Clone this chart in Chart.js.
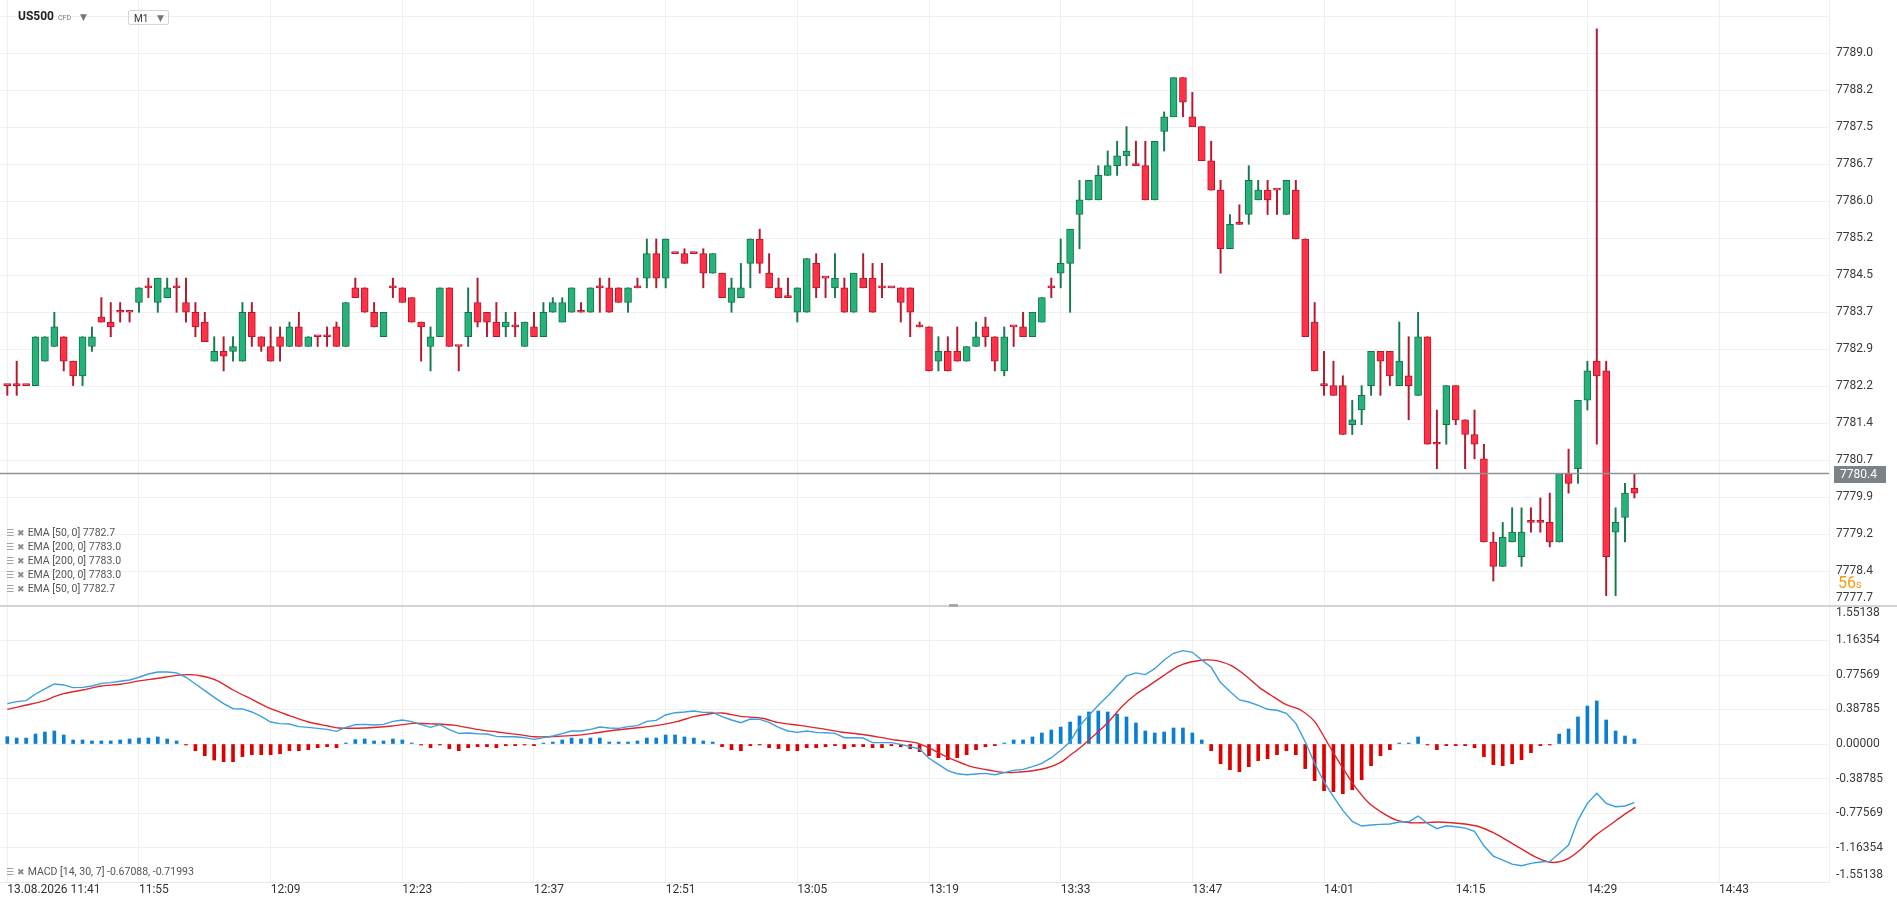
<!DOCTYPE html>
<html>
<head>
<meta charset="utf-8">
<title>US500 M1</title>
<script src="https://cdn.jsdelivr.net/npm/chart.js@4.4.1/dist/chart.umd.min.js"></script>
<style>
  html, body { margin: 0; padding: 0; background: #fff; }
  body { width: 1897px; height: 906px; position: relative; overflow: hidden; font-family: Roboto, "DejaVu Sans", sans-serif; }
  #pricePane { position: absolute; left: 0; top: 0; width: 1897px; height: 606px; }
  #macdPane { position: absolute; left: 0; top: 606px; width: 1897px; height: 300px; }
  .divider { position: absolute; left: 0; top: 605px; width: 1897px; height: 2px; background: #d4d4d4; }
  .handle { position: absolute; left: 949px; top: 604px; width: 9px; height: 3px; background: #a8a8a8; }
  .head { position: absolute; left: 18px; top: 9px; font-size: 12px; font-weight: bold; color: #222; }
  .head small { font-size: 7px; font-weight: normal; color: #777; margin-left: 4px; }
  .head .dd { font-size: 9px; font-weight: normal; color: #777; margin-left: 9px; }
  .tf { position: absolute; left: 128px; top: 10px; width: 41px; height: 15px; border: 1px solid #d6d6d6; border-radius: 2px;
        font-size: 10px; color: #333; line-height: 15px; box-sizing: border-box; padding-left: 5px; }
  .tf span { position: absolute; right: 4px; top: 0; font-size: 9px; color: #777; }
  .leg { position: absolute; left: 6px; font-size: 10.5px; color: #555; line-height: 12px; white-space: nowrap; }
  .leg .ic { font-family: "DejaVu Sans", sans-serif; color: #8a8a8a; font-size: 9px; margin-right: 3px; }
  .timer { position: absolute; left: 1838px; top: 573px; color: #f39c12; font-size: 16px; }
  .timer small { font-size: 11px; }
</style>
</head>
<body>
<div id="pricePane"><canvas id="price"></canvas></div>
<div id="macdPane"><canvas id="macd"></canvas></div>
<div class="divider"></div>
<div class="handle"></div>

<div class="head">US500<small>CFD</small><span class="dd">&#9660;</span></div>
<div class="tf">M1<span>&#9660;</span></div>

<div class="leg" style="top:527px"><span class="ic">&#9776;</span><span class="ic">&#10006;</span>EMA [50, 0] 7782.7</div>
<div class="leg" style="top:541px"><span class="ic">&#9776;</span><span class="ic">&#10006;</span>EMA [200, 0] 7783.0</div>
<div class="leg" style="top:555px"><span class="ic">&#9776;</span><span class="ic">&#10006;</span>EMA [200, 0] 7783.0</div>
<div class="leg" style="top:569px"><span class="ic">&#9776;</span><span class="ic">&#10006;</span>EMA [200, 0] 7783.0</div>
<div class="leg" style="top:583px"><span class="ic">&#9776;</span><span class="ic">&#10006;</span>EMA [50, 0] 7782.7</div>
<div class="leg" style="top:866px"><span class="ic">&#9776;</span><span class="ic">&#10006;</span>MACD [14, 30, 7] -0.67088, -0.71993</div>
<div class="timer">56<small>s</small></div>

<script>
// one-minute candles, 11:41 .. 14:34
const openP = [
  7782.2, 7782.2, 7782.2, 7782.2, 7782.7, 7783.0, 7783.2, 7782.7, 7782.4, 7783.0,
  7783.6, 7783.5, 7783.7, 7783.7, 7783.9, 7784.2, 7783.9, 7784.0, 7784.2, 7783.9,
  7783.7, 7783.5, 7782.7, 7782.9, 7782.9, 7782.7, 7783.7, 7783.2, 7783.0, 7783.2,
  7783.0, 7783.4, 7783.0, 7783.2, 7783.2, 7783.4, 7783.0, 7784.2, 7784.2, 7783.7,
  7783.2, 7784.2, 7784.2, 7784.0, 7783.5, 7783.0, 7783.2, 7784.2, 7783.0, 7783.2,
  7783.9, 7783.7, 7783.5, 7783.4, 7783.4, 7783.0, 7783.4, 7783.2, 7783.7, 7783.5,
  7783.7, 7783.7, 7783.7, 7784.2, 7784.2, 7784.2, 7783.9, 7784.2, 7784.4, 7784.9,
  7784.4, 7784.9, 7784.9, 7784.9, 7784.9, 7784.5, 7784.5, 7783.9, 7784.0, 7784.7,
  7785.2, 7784.5, 7784.2, 7784.0, 7783.7, 7783.7, 7784.7, 7784.4, 7784.2, 7784.2,
  7783.7, 7784.4, 7784.4, 7784.2, 7784.2, 7784.2, 7784.2, 7783.4, 7783.4, 7782.7,
  7782.9, 7782.9, 7782.7, 7783.0, 7783.4, 7783.2, 7782.5, 7783.4, 7783.4, 7783.2,
  7783.5, 7784.2, 7784.5, 7784.7, 7785.7, 7786.0, 7786.0, 7786.5, 7786.7, 7786.9,
  7786.7, 7786.7, 7786.0, 7787.4, 7787.7, 7788.5, 7787.7, 7787.5, 7786.8, 7786.2,
  7785.0, 7785.5, 7785.7, 7786.0, 7786.2, 7786.2, 7785.7, 7786.2, 7785.2, 7783.5,
  7782.2, 7782.2, 7782.2, 7781.4, 7781.7, 7782.2, 7782.9, 7782.9, 7782.2, 7782.4,
  7782.0, 7783.2, 7781.0, 7781.4, 7782.2, 7781.5, 7781.2, 7780.7, 7779.0, 7778.5,
  7779.0, 7778.7, 7779.4, 7779.4, 7779.4, 7779.0, 7780.4, 7780.5, 7781.9, 7782.7,
  7782.5, 7779.2, 7779.5, 7780.1
];
const highP = [
  7782.2, 7782.7, 7782.2, 7783.2, 7783.2, 7783.7, 7783.2, 7782.7, 7783.2, 7783.4,
  7784.0, 7783.9, 7783.9, 7783.7, 7784.2, 7784.4, 7784.4, 7784.4, 7784.4, 7784.4,
  7783.9, 7783.7, 7783.2, 7783.2, 7783.2, 7783.9, 7783.9, 7783.2, 7783.4, 7783.4,
  7783.5, 7783.7, 7783.2, 7783.2, 7783.4, 7783.5, 7783.9, 7784.4, 7784.2, 7783.9,
  7783.7, 7784.4, 7784.2, 7784.0, 7783.5, 7783.4, 7784.2, 7784.2, 7783.0, 7784.2,
  7784.4, 7783.7, 7783.9, 7783.7, 7783.7, 7783.5, 7783.7, 7783.9, 7784.0, 7784.0,
  7784.2, 7783.9, 7784.2, 7784.4, 7784.4, 7784.2, 7784.2, 7784.4, 7785.2, 7785.2,
  7785.2, 7784.9, 7785.0, 7784.9, 7785.0, 7784.9, 7784.5, 7784.4, 7784.7, 7785.2,
  7785.4, 7784.9, 7784.4, 7784.4, 7784.2, 7784.8, 7784.9, 7784.4, 7784.9, 7784.4,
  7784.5, 7784.9, 7784.7, 7784.7, 7784.2, 7784.2, 7784.2, 7783.5, 7783.4, 7783.2,
  7783.2, 7783.4, 7783.0, 7783.5, 7783.6, 7783.2, 7783.4, 7783.4, 7783.7, 7783.7,
  7784.0, 7784.4, 7785.2, 7785.4, 7786.4, 7786.4, 7786.7, 7787.0, 7787.2, 7787.5,
  7787.2, 7787.2, 7787.2, 7787.8, 7788.5, 7788.5, 7788.2, 7787.5, 7787.2, 7786.4,
  7785.7, 7785.9, 7786.7, 7786.4, 7786.4, 7786.2, 7786.4, 7786.4, 7785.2, 7783.9,
  7782.9, 7782.7, 7782.4, 7781.9, 7782.2, 7782.9, 7782.9, 7782.9, 7783.5, 7783.2,
  7783.7, 7783.2, 7781.7, 7782.2, 7782.2, 7781.5, 7781.7, 7781.0, 7779.2, 7779.4,
  7779.7, 7779.7, 7779.7, 7779.9, 7780.0, 7780.4, 7780.9, 7781.9, 7782.7, 7789.5,
  7782.7, 7779.7, 7780.2, 7780.4
];
const lowP = [
  7782.0, 7782.0, 7782.2, 7782.2, 7782.7, 7783.0, 7782.5, 7782.2, 7782.2, 7782.9,
  7783.5, 7783.2, 7783.5, 7783.5, 7783.7, 7784.0, 7783.7, 7784.0, 7783.7, 7783.5,
  7783.2, 7783.1, 7782.7, 7782.5, 7782.7, 7782.7, 7783.0, 7782.9, 7782.7, 7782.7,
  7783.0, 7783.0, 7783.0, 7783.0, 7783.0, 7783.0, 7783.0, 7784.0, 7783.7, 7783.4,
  7783.2, 7784.0, 7783.9, 7783.5, 7782.7, 7782.5, 7783.2, 7783.0, 7782.5, 7783.0,
  7783.4, 7783.2, 7783.2, 7783.2, 7783.2, 7783.0, 7783.2, 7783.2, 7783.7, 7783.5,
  7783.7, 7783.7, 7783.7, 7783.7, 7783.7, 7783.9, 7783.7, 7784.2, 7784.2, 7784.2,
  7784.2, 7784.9, 7784.7, 7784.9, 7784.2, 7784.5, 7784.0, 7783.7, 7784.0, 7784.2,
  7784.5, 7784.2, 7784.0, 7784.0, 7783.5, 7783.7, 7784.0, 7784.0, 7784.0, 7783.7,
  7783.7, 7784.2, 7783.7, 7784.0, 7784.2, 7783.5, 7783.2, 7783.4, 7782.5, 7782.5,
  7782.5, 7782.7, 7782.7, 7783.0, 7783.0, 7782.5, 7782.4, 7783.0, 7783.2, 7783.2,
  7783.5, 7784.0, 7784.2, 7783.7, 7785.0, 7786.0, 7786.0, 7786.5, 7786.5, 7786.7,
  7786.7, 7786.0, 7786.0, 7787.0, 7787.7, 7787.7, 7787.5, 7786.8, 7786.2, 7784.5,
  7785.0, 7785.5, 7785.5, 7786.0, 7785.7, 7785.7, 7785.7, 7785.2, 7783.2, 7782.5,
  7782.0, 7782.0, 7781.2, 7781.2, 7781.4, 7782.0, 7782.0, 7782.2, 7782.2, 7781.5,
  7782.0, 7781.0, 7780.5, 7781.0, 7781.4, 7780.5, 7780.7, 7779.0, 7778.2, 7778.5,
  7779.0, 7778.5, 7779.2, 7779.2, 7778.9, 7779.0, 7780.0, 7780.2, 7781.7, 7781.0,
  7777.9, 7777.9, 7779.0, 7779.9
];
const closeP = [
  7782.2, 7782.2, 7782.2, 7783.2, 7783.2, 7783.4, 7782.7, 7782.4, 7783.2, 7783.2,
  7783.5, 7783.4, 7783.7, 7783.7, 7784.2, 7784.2, 7784.4, 7784.2, 7784.2, 7783.7,
  7783.4, 7783.1, 7782.9, 7782.8, 7783.0, 7783.7, 7783.2, 7783.0, 7782.7, 7783.0,
  7783.4, 7783.0, 7783.2, 7783.2, 7783.2, 7783.0, 7783.9, 7784.0, 7783.7, 7783.4,
  7783.7, 7784.2, 7783.9, 7783.5, 7783.4, 7783.2, 7784.2, 7783.0, 7783.0, 7783.7,
  7783.5, 7783.5, 7783.2, 7783.5, 7783.4, 7783.5, 7783.2, 7783.7, 7783.9, 7783.9,
  7784.2, 7783.7, 7784.2, 7784.2, 7783.7, 7783.9, 7784.2, 7784.2, 7784.9, 7784.4,
  7785.2, 7784.9, 7784.7, 7784.9, 7784.5, 7784.9, 7784.0, 7784.2, 7784.2, 7785.2,
  7784.7, 7784.2, 7784.0, 7784.0, 7784.2, 7784.8, 7784.2, 7784.4, 7784.4, 7783.7,
  7784.5, 7784.2, 7783.7, 7784.2, 7784.2, 7783.9, 7783.7, 7783.4, 7782.5, 7782.9,
  7782.5, 7782.7, 7783.0, 7783.2, 7783.2, 7782.7, 7783.2, 7783.4, 7783.2, 7783.7,
  7784.0, 7784.2, 7784.7, 7785.4, 7786.0, 7786.4, 7786.5, 7786.7, 7786.9, 7787.0,
  7786.7, 7786.0, 7787.2, 7787.7, 7788.5, 7788.0, 7787.5, 7786.8, 7786.2, 7785.0,
  7785.5, 7785.5, 7786.4, 7786.2, 7786.0, 7786.2, 7786.4, 7785.2, 7783.2, 7782.5,
  7782.2, 7782.0, 7781.2, 7781.5, 7782.0, 7782.9, 7782.7, 7782.4, 7782.7, 7782.2,
  7783.2, 7781.0, 7781.0, 7782.2, 7781.5, 7781.2, 7781.0, 7779.0, 7778.5, 7779.1,
  7779.2, 7779.2, 7779.4, 7779.4, 7779.0, 7780.4, 7780.2, 7781.9, 7782.5, 7782.4,
  7778.7, 7779.4, 7780.0, 7780.0
];
const currentPrice = 7780.4;

// MACD [14, 30, 7]
const macdHist = [
  0.082, 0.067, 0.067, 0.112, 0.135, 0.146, 0.101, 0.045, 0.045, 0.034,
  0.034, 0.034, 0.045, 0.056, 0.067, 0.067, 0.079, 0.056, 0.034, -0.011,
  -0.075, -0.131, -0.180, -0.199, -0.199, -0.142, -0.120, -0.120, -0.120, -0.109,
  -0.075, -0.075, -0.064, -0.041, -0.030, -0.041, 0.011, 0.049, 0.056, 0.034,
  0.034, 0.056, 0.045, 0.003, -0.008, -0.041, -0.011, -0.052, -0.075, -0.041,
  -0.030, -0.030, -0.041, -0.019, -0.019, -0.011, -0.019, 0.003, 0.022, 0.045,
  0.067, 0.056, 0.067, 0.067, 0.022, 0.022, 0.022, 0.034, 0.067, 0.067,
  0.101, 0.101, 0.079, 0.067, 0.034, 0.022, -0.030, -0.064, -0.075, -0.019,
  -0.011, -0.041, -0.052, -0.075, -0.075, -0.041, -0.041, -0.030, -0.019, -0.052,
  -0.030, -0.030, -0.041, -0.041, -0.019, -0.030, -0.052, -0.086, -0.131, -0.154,
  -0.176, -0.154, -0.120, -0.064, -0.030, -0.019, 0.011, 0.045, 0.045, 0.079,
  0.124, 0.157, 0.191, 0.247, 0.315, 0.360, 0.371, 0.360, 0.337, 0.304,
  0.236, 0.146, 0.124, 0.135, 0.180, 0.180, 0.124, 0.045, -0.075, -0.221,
  -0.289, -0.311, -0.255, -0.187, -0.165, -0.120, -0.075, -0.120, -0.277, -0.412,
  -0.525, -0.536, -0.559, -0.514, -0.401, -0.244, -0.131, -0.064, 0.003, 0.011,
  0.079, -0.008, -0.064, -0.019, -0.019, -0.019, -0.041, -0.142, -0.232, -0.244,
  -0.221, -0.176, -0.097, -0.019, -0.003, 0.112, 0.169, 0.304, 0.427, 0.484,
  0.270, 0.146, 0.090, 0.056
];
const macdLine = [
  0.454, 0.476, 0.487, 0.562, 0.619, 0.675, 0.664, 0.634, 0.637, 0.652,
  0.682, 0.690, 0.705, 0.720, 0.750, 0.787, 0.810, 0.810, 0.799, 0.750,
  0.675, 0.600, 0.525, 0.454, 0.397, 0.394, 0.360, 0.311, 0.247, 0.229,
  0.225, 0.195, 0.187, 0.176, 0.165, 0.142, 0.187, 0.217, 0.221, 0.214,
  0.221, 0.255, 0.270, 0.251, 0.217, 0.187, 0.217, 0.161, 0.120, 0.124,
  0.116, 0.112, 0.086, 0.082, 0.082, 0.071, 0.052, 0.071, 0.090, 0.116,
  0.146, 0.146, 0.165, 0.191, 0.180, 0.176, 0.195, 0.206, 0.255, 0.266,
  0.326, 0.352, 0.360, 0.371, 0.356, 0.356, 0.307, 0.270, 0.240, 0.281,
  0.277, 0.244, 0.187, 0.146, 0.131, 0.146, 0.131, 0.127, 0.120, 0.071,
  0.071, 0.067, 0.015, 0.015, 0.015, -0.004, -0.030, -0.056, -0.161, -0.229,
  -0.300, -0.334, -0.345, -0.337, -0.330, -0.345, -0.322, -0.296, -0.285, -0.255,
  -0.217, -0.154, -0.071, 0.026, 0.202, 0.322, 0.435, 0.540, 0.652, 0.765,
  0.799, 0.780, 0.847, 0.945, 1.020, 1.050, 1.031, 0.945, 0.862, 0.690,
  0.589, 0.495, 0.472, 0.435, 0.390, 0.379, 0.345, 0.232, 0.026, -0.217,
  -0.427, -0.592, -0.746, -0.870, -0.922, -0.911, -0.904, -0.900, -0.877, -0.874,
  -0.810, -0.892, -0.952, -0.919, -0.930, -0.945, -0.982, -1.144, -1.260, -1.305,
  -1.350, -1.369, -1.342, -1.327, -1.320, -1.230, -1.136, -0.855, -0.667, -0.555,
  -0.667, -0.705, -0.697, -0.660
];
// signal line, read at these candle positions
const signalAt = [
  0, 1.9, 4, 5, 6, 8, 10, 12, 14, 16, 18, 19.5, 20.8, 22.3, 24, 26, 28, 30, 32, 34.1,
  35.2, 38, 40.9, 43.1, 45.4, 47.6, 49.9, 52.1, 54.4, 56, 57.7, 60, 62.3, 64.5, 66.8, 69, 71.3, 73, 74.6, 76,
  78, 80.3, 82, 84.2, 86.4, 88.6, 90.8, 93, 94.4, 96.6, 98.1, 99.5, 101, 102.5, 104.7, 106.1, 107.6, 109, 110.5, 112,
  113, 114.2, 115.6, 117, 118.5, 120, 121.5, 122.9, 124.4, 125.8, 127.3, 128.7, 130.2, 131.7, 133.1, 134.6, 136, 137.5, 139, 140.4,
  141.9, 143.3, 144.8, 146.3, 147.7, 149.2, 150.6, 152.1, 153.6, 155, 156.5, 158, 159.4, 160.9, 162.3, 163.8, 164.9, 166, 167.4, 168.9,
  170.4, 171.8, 173.1
];
const signalVal = [
  0.390, 0.435, 0.487, 0.532, 0.566, 0.607, 0.652, 0.671, 0.709, 0.739, 0.772, 0.780, 0.761, 0.712, 0.607, 0.502, 0.397, 0.319, 0.247, 0.202,
  0.180, 0.180, 0.202, 0.232, 0.225, 0.210, 0.165, 0.135, 0.105, 0.082, 0.082, 0.094, 0.120, 0.154, 0.180, 0.206, 0.255, 0.307, 0.337, 0.349,
  0.311, 0.289, 0.240, 0.210, 0.176, 0.135, 0.109, 0.071, 0.045, 0.015, -0.049, -0.124, -0.195, -0.255, -0.300, -0.322, -0.315, -0.300, -0.270, -0.206,
  -0.127, -0.030, 0.101, 0.240, 0.420, 0.559, 0.664, 0.765, 0.870, 0.922, 0.945, 0.934, 0.877, 0.765, 0.637, 0.532, 0.442, 0.382, 0.251, 0.008,
  -0.255, -0.480, -0.667, -0.780, -0.855, -0.885, -0.885, -0.877, -0.885, -0.900, -0.930, -0.997, -1.080, -1.174, -1.260, -1.324, -1.327, -1.286, -1.174, -1.024,
  -0.911, -0.802, -0.712
];

// axis labels
const timeLabels = ['13.08.2026 11:41', '11:55', '12:09', '12:23', '12:37', '12:51', '13:05',
  '13:19', '13:33', '13:47', '14:01', '14:15', '14:29', '14:43'];
const priceTickValues = [7777.85, 7778.40, 7779.16, 7779.92, 7780.67, 7781.43, 7782.19, 7782.94, 7783.70,
  7784.46, 7785.21, 7785.97, 7786.73, 7787.49, 7788.24, 7789.00, 7789.76];
const priceTickLabels = ['7777.7', '7778.4', '7779.2', '7779.9', '7780.7', '7781.4', '7782.2', '7782.9', '7783.7',
  '7784.5', '7785.2', '7786.0', '7786.7', '7787.5', '7788.2', '7789.0', ''];
const macdTickValues = [-1.478, -1.16354, -0.77569, -0.38785, 0, 0.38785, 0.77569, 1.16354, 1.478];
const macdTickLabels = ['-1.55138', '-1.16354', '-0.77569', '-0.38785', '0.00000', '0.38785', '0.77569', '1.16354', '1.55138'];

const GRID = '#f0f0f0';
const UP = { fill: '#26b27a', edge: '#12744a', wick: '#157a4d' };
const DOWN = { fill: '#ff3147', edge: '#b7152c', wick: '#b3182c' };
const X_MIN = -0.776, X_MAX = 193.69;   // candle slots visible across the pane
const AXIS_W = 68;

Chart.defaults.font.family = "Roboto, 'DejaVu Sans', sans-serif";
Chart.defaults.font.size = 12;
Chart.defaults.color = '#3a3a3a';

const idx = closeP.map((c, i) => i);
const isUp = idx.map(i => closeP[i] > openP[i]);

function timeGrid(scale) {
  scale.ticks = timeLabels.map((t, k) => ({ value: k * 14 }));
}
function noPad(scale) {
  scale.paddingTop = 0; scale.paddingBottom = 0; scale.paddingLeft = 0; scale.paddingRight = 0;
}

const priceBox = {
  id: 'priceBox',
  afterDatasetsDraw(chart) {
    const { ctx, chartArea } = chart;
    const y = Math.round(chart.scales.y.getPixelForValue(currentPrice));
    ctx.save();
    ctx.fillStyle = '#7b8288';
    ctx.fillRect(chartArea.right + 5, y - 8, 52, 17);
    ctx.fillStyle = '#fff';
    ctx.font = "12px Roboto, 'DejaVu Sans', sans-serif";
    ctx.textBaseline = 'middle';
    ctx.fillText(currentPrice.toFixed(1), chartArea.right + 11, y + 0.5);
    ctx.restore();
  }
};

new Chart(document.getElementById('price'), {
  type: 'bar',
  data: {
    datasets: [
      {
        type: 'line',
        data: [{ x: X_MIN, y: currentPrice }, { x: X_MAX, y: currentPrice }],
        borderColor: '#8d9399', borderWidth: 1.4, pointRadius: 0, order: -1
      },
      {
        data: idx.map(i => ({ x: i, y: [openP[i], closeP[i]] })),
        backgroundColor: idx.map(i => isUp[i] ? UP.fill : DOWN.fill),
        borderColor: idx.map(i => isUp[i] ? UP.edge : DOWN.edge),
        borderWidth: 1, borderSkipped: false, barThickness: 7, minBarLength: 2,
        grouped: false, order: 0
      },
      {
        data: idx.map(i => ({ x: i, y: [lowP[i], highP[i]] })),
        backgroundColor: idx.map(i => isUp[i] ? UP.wick : DOWN.wick),
        barThickness: 1.3, grouped: false, order: 1
      }
    ]
  },
  options: {
    responsive: true, maintainAspectRatio: false, animation: false,
    layout: { padding: 0 },
    plugins: { legend: { display: false }, tooltip: { enabled: false } },
    scales: {
      x: {
        type: 'linear', min: X_MIN, max: X_MAX, offset: false,
        afterBuildTicks: timeGrid,
        afterFit: s => { s.height = 0; noPad(s); },
        ticks: { display: false },
        grid: { color: GRID, offset: false, drawTicks: false },
        border: { display: false }
      },
      y: {
        position: 'right', min: 7777.69, max: 7790.09,
        afterBuildTicks: s => { s.ticks = priceTickValues.map(v => ({ value: v })); },
        afterFit: s => { s.width = AXIS_W; noPad(s); },
        ticks: { callback: (v, i) => priceTickLabels[i], padding: 7, autoSkip: false },
        grid: { color: c => c.index === 0 ? 'rgba(0,0,0,0)' : GRID, drawTicks: false },
        border: { display: true, color: GRID }
      }
    }
  },
  plugins: [priceBox]
});

new Chart(document.getElementById('macd'), {
  type: 'bar',
  data: {
    datasets: [
      {
        type: 'line',
        data: idx.map(i => ({ x: i, y: macdLine[i] })),
        borderColor: '#3a9fe0', borderWidth: 1.4, pointRadius: 0, tension: 0, order: 0
      },
      {
        type: 'line',
        data: signalAt.map((x, k) => ({ x: x, y: signalVal[k] })),
        borderColor: '#e0242a', borderWidth: 1.4, pointRadius: 0, tension: 0.25, order: 1
      },
      {
        data: idx.map(i => ({ x: i, y: macdHist[i] })),
        backgroundColor: macdHist.map(v => v >= 0 ? '#0a7ed2' : '#dc0000'),
        barThickness: 3, minBarLength: 1, grouped: false, order: 2
      }
    ]
  },
  options: {
    responsive: true, maintainAspectRatio: false, animation: false,
    layout: { padding: 0 },
    plugins: { legend: { display: false }, tooltip: { enabled: false } },
    scales: {
      x: {
        type: 'linear', min: X_MIN, max: X_MAX, offset: false,
        afterBuildTicks: timeGrid,
        afterFit: s => { s.height = 24; noPad(s); },
        ticks: { callback: (v, i) => timeLabels[i], align: 'start', maxRotation: 0, autoSkip: false, padding: 1, color: '#333' },
        grid: { color: GRID, offset: false, drawTicks: false },
        border: { display: true, color: '#e8e8e8' }
      },
      y: {
        position: 'right', min: -1.55138, max: 1.55138,
        afterBuildTicks: s => { s.ticks = macdTickValues.map(v => ({ value: v })); },
        afterFit: s => { s.width = AXIS_W; noPad(s); },
        ticks: { callback: (v, i) => macdTickLabels[i], padding: 7, autoSkip: false },
        grid: { color: c => (c.index === 0 || c.index === 8) ? 'rgba(0,0,0,0)' : GRID, drawTicks: false },
        border: { display: true, color: GRID }
      }
    }
  }
});
</script>
</body>
</html>
